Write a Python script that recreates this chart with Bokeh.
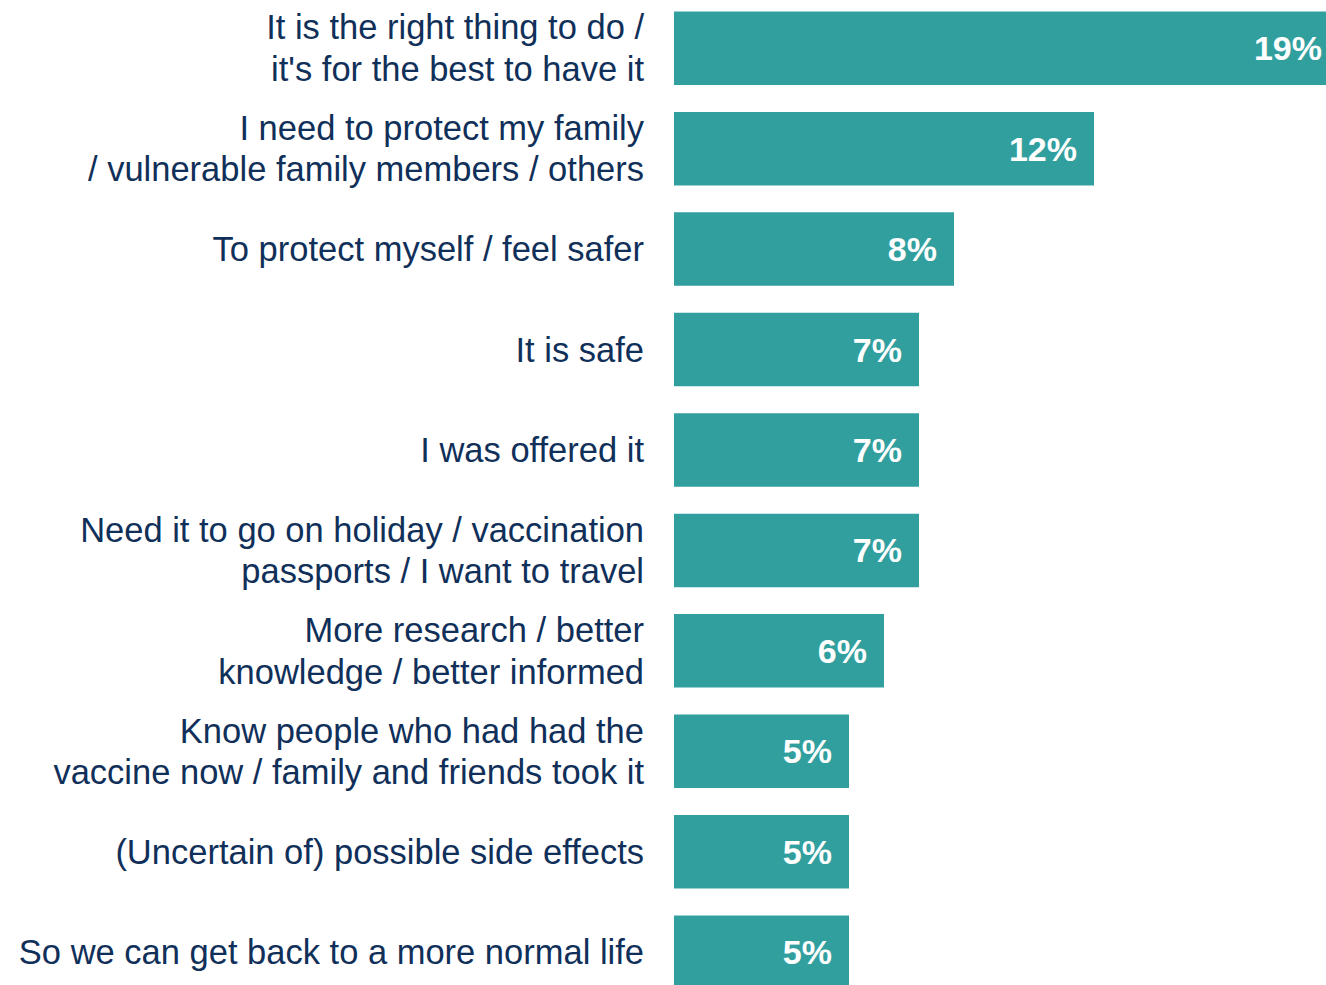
from bokeh.plotting import figure
from bokeh.models import ColumnDataSource, Range1d
from bokeh.core.properties import value
from bokeh.embed import file_html
from bokeh.resources import INLINE

categories = [
    "It is the right thing to do /\nit's for the best to have it",
    "I need to protect my family\n/ vulnerable family members / others",
    "To protect myself / feel safer",
    "It is safe",
    "I was offered it",
    "Need it to go on holiday / vaccination\npassports / I want to travel",
    "More research / better\nknowledge / better informed",
    "Know people who had had the\nvaccine now / family and friends took it",
    "(Uncertain of) possible side effects",
    "So we can get back to a more normal life",
]
values = [19, 12, 8, 7, 7, 7, 6, 5, 5, 5]
value_labels = [f"{v}%" for v in values]

positions = list(range(len(categories)))

source = ColumnDataSource(data=dict(
    pos=positions, val=values, cat=categories, lab=value_labels,
    zero=[0] * len(values),
))

W, H = 1326, 985
p = figure(width=W, height=H, output_backend="svg", toolbar_location=None,
           x_axis_location=None, y_axis_location=None, min_border=0,
           x_range=Range1d(-19.243, 18.643), y_range=Range1d(9.332, -0.475))
p.outline_line_color = None
p.xgrid.visible = False
p.ygrid.visible = False
p.background_fill_color = "white"
p.border_fill_color = "white"

teal = "#329F9F"
navy = "#10305A"

p.hbar(y="pos", left=0, right="val", height=0.732, source=source,
       fill_color=teal, line_color=None)

p.text(x="zero", y="pos", text="cat", source=source, x_offset=-30,
       text_align="right", text_baseline="middle",
       text_font=value("Liberation Sans"), text_font_size="34.5px",
       text_color=navy, text_line_height=1.09)

p.text(x="val", y="pos", text="lab", source=source, x_offset=-17,
       text_align="right", text_baseline="middle",
       text_font=value("Liberation Sans"), text_font_size="34px",
       text_font_style="bold", text_color="white")

open("out.html", "w").write(file_html(p, INLINE))
